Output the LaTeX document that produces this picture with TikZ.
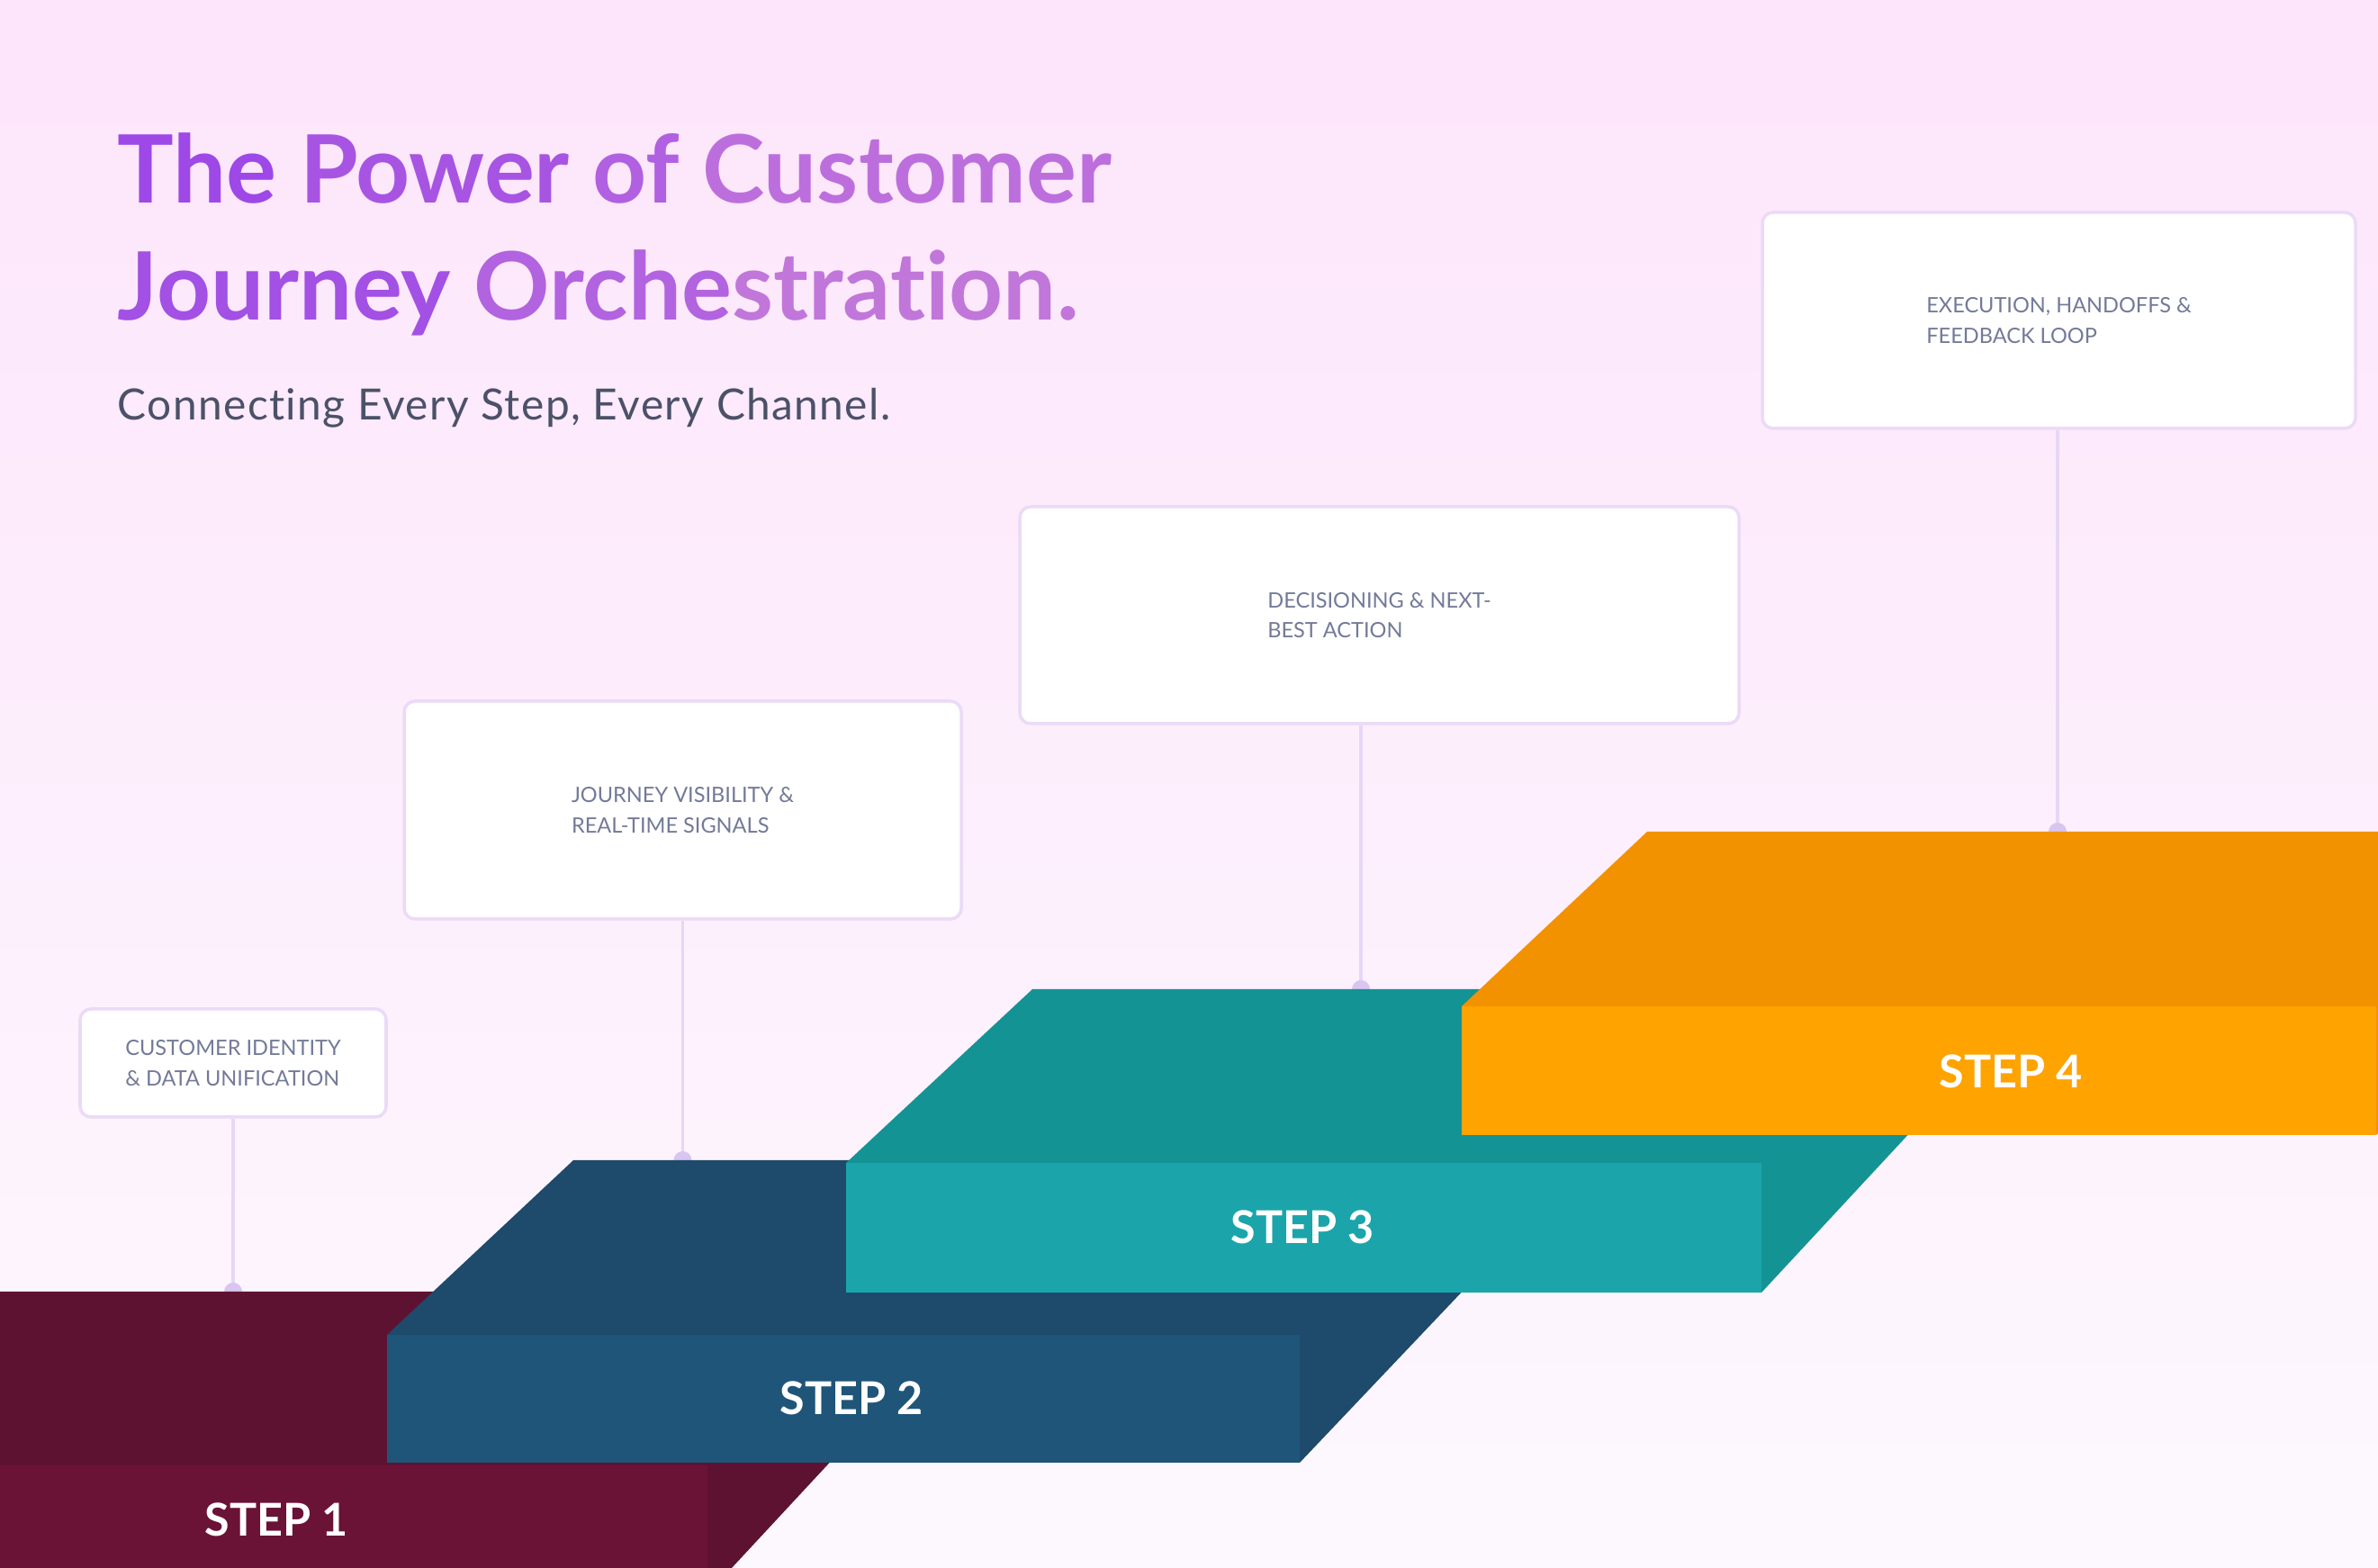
\documentclass[tikz,border=0pt]{standalone}
\usepackage{fontspec}
\setmainfont{Lato}[RawFeature={-liga;-clig;-calt;-dlig}]

\definecolor{bgtop}{HTML}{FDE5FB}
\definecolor{bgbot}{HTML}{FDF8FE}
\definecolor{titleL}{HTML}{9B45E8}
\definecolor{titleR}{HTML}{C57BD8}
\definecolor{subgray}{HTML}{4B5168}
\definecolor{cardtext}{HTML}{737A99}
\definecolor{cardline}{HTML}{EBDAF7}
\definecolor{linkcol}{HTML}{E7D7F5}
\definecolor{dotcol}{HTML}{D9C5F0}
\definecolor{oneF}{HTML}{6A1336}
\definecolor{oneT}{HTML}{5E1232}
\definecolor{twoF}{HTML}{1F5579}
\definecolor{twoT}{HTML}{1E4A6C}
\definecolor{threeF}{HTML}{1BA5AB}
\definecolor{threeT}{HTML}{149395}
\definecolor{fourF}{HTML}{FFA300}
\definecolor{fourT}{HTML}{F39200}

\newfontfamily\subfont{Lato}[LetterSpace=3, RawFeature={-liga;-clig;-calt;-dlig}]

\tikzset{
  card/.style={draw=cardline, line width=1pt, fill=white, rounded corners=0.12cm,
    align=left, inner sep=0pt, text=cardtext, font=\fontsize{6.7}{9.6}\selectfont},
  link/.style={draw=linkcol, line width=0.9pt},
  steplabel/.style={text=white, inner sep=0pt, font=\bfseries\fontsize{14.3}{16}\selectfont}
}

\begin{document}
\begin{tikzpicture}
  \useasboundingbox (0,0) rectangle (26.42,17.42);
  \clip (0,0) rectangle (26.42,17.42);
  \shade[top color=bgtop, bottom color=bgbot] (0,0) rectangle (26.42,17.42);

  \node[anchor=base west, inner sep=0pt, font=\bfseries\fontsize{29.8}{36}\selectfont] (title1) at (1.30,15.16)
    {\textcolor{titleR!5!titleL}{The} \textcolor{titleR!28!titleL}{Power} \textcolor{titleR!50!titleL}{of} \textcolor{titleR!78!titleL}{Customer}};
  \node[anchor=base west, inner sep=0pt, font=\bfseries\fontsize{29.8}{36}\selectfont] (title2) at (1.30,13.86)
    {\textcolor{titleR!20!titleL}{Journey} \textcolor{titleR!55!titleL}{Orche}\textcolor{titleR!90!titleL}{stration.}};
  \node[anchor=base west, inner sep=0pt, text=subgray, font=\subfont\fontsize{13.6}{16}\selectfont] (subtitle) at (1.30,12.75)
    {Connecting Every Step, Every Channel.};

  \node[card, minimum width=3.40cm, minimum height=1.20cm] (c1) at (2.59,5.61) {CUSTOMER IDENTITY\\\& DATA UNIFICATION};
  \node[card, minimum width=6.19cm, minimum height=2.42cm] (c2) at (7.585,8.42) {JOURNEY VISIBILITY \&\\REAL-TIME SIGNALS};
  \node[card, minimum width=7.99cm, minimum height=2.41cm] (c3) at (15.325,10.585) {DECISIONING \& NEXT-\\BEST ACTION};
  \node[card, minimum width=6.59cm, minimum height=2.40cm] (c4) at (22.875,13.86) {EXECUTION, HANDOFFS \&\\FEEDBACK LOOP};

  \coordinate (e1) at (2.59,3.07);
  \coordinate (e2) at (7.585,4.53);
  \coordinate (e3) at (15.12,6.43);
  \coordinate (e4) at (22.86,8.18);
  \draw[link] (c1) -- (e1);
  \draw[link] (c2) -- (e2);
  \draw[link] (e3 |- c3.south) -- (e3);
  \draw[link] (e4 |- c4.south) -- (e4);
  \fill[dotcol] (e1) circle (0.1);
  \fill[dotcol] (e2) circle (0.1);
  \fill[dotcol] (e3) circle (0.1);
  \fill[dotcol] (e4) circle (0.1);

  \fill[oneT] (-2.30,-0.29) -- (-2.30,1.14) -- (-0.24,3.07) -- (10.98,3.07) -- (7.86,-0.29) -- cycle;
  \fill[oneF] (-2.30,-0.29) rectangle (7.86,1.14);
  \node[steplabel] (s1) at (3.07,0.54) {STEP 1};

  \fill[twoT] (4.30,1.17) -- (4.30,2.59) -- (6.37,4.53) -- (17.63,4.53) -- (14.44,1.17) -- cycle;
  \fill[twoF] (4.30,1.17) rectangle (14.44,2.59);
  \node[steplabel] (s2) at (9.46,1.89) {STEP 2};

  \fill[threeT] (9.40,3.06) -- (9.40,4.50) -- (11.47,6.43) -- (22.70,6.43) -- (19.57,3.06) -- cycle;
  \fill[threeF] (9.40,3.06) rectangle (19.57,4.50);
  \node[steplabel] (s3) at (14.47,3.79) {STEP 3};

  \fill[fourT] (16.24,4.81) -- (16.24,6.24) -- (18.30,8.18) -- (29.53,8.18) -- (26.40,4.81) -- cycle;
  \fill[fourF] (16.24,4.81) rectangle (26.40,6.24);
  \node[steplabel] (s4) at (22.34,5.52) {STEP 4};
\end{tikzpicture}
\end{document}
